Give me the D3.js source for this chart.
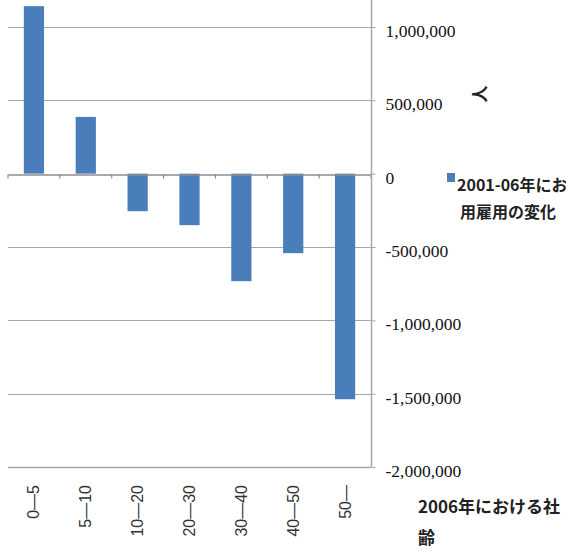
<!DOCTYPE html>
<html><head><meta charset="utf-8">
<script src="https://cdn.jsdelivr.net/npm/d3@7/dist/d3.min.js"></script>
<style>
html,body{margin:0;padding:0;background:#fff;overflow:hidden}
</style></head>
<body>
<svg id="c" width="566" height="551"></svg>
<script>
const categories = ["0—5", "5—10", "10—20", "20—30", "30—40", "40—50", "50—"];
const values = [1142000, 387000, -256000, -351000, -733000, -542000, -1538000];
const yTicks = [1000000, 500000, 0, -500000, -1000000, -1500000, -2000000];
const seriesName = ["2001-06年における常", "用雇用の変化"];
const xTitle = ["2006年における社", "齢"];
const yTitle = "人";

(function () {
const svg = d3.select("#c");
const pLeft = 8, pRight = 371, pTop = 27, pBottom = 467;

const x = d3.scaleBand().domain(categories).range([pLeft, pRight]).paddingInner(0.61).paddingOuter(0.305);
const xb = d3.scaleBand().domain(categories).range([pLeft, pRight]);
const y = d3.scaleLinear().domain([-2000000, 1000000]).range([pBottom, pTop]);

const grid = "#a6a6a6";
svg.append("g").selectAll("line").data(yTicks.filter(d => d !== -2000000 && d !== 0)).join("line")
  .attr("x1", pLeft).attr("x2", pRight)
  .attr("y1", d => Math.round(y(d)) + 0.5).attr("y2", d => Math.round(y(d)) + 0.5)
  .attr("stroke", grid).attr("stroke-width", 1.2);

svg.append("g").selectAll("rect").data(values).join("rect")
  .attr("x", (d, i) => x(categories[i]))
  .attr("width", x.bandwidth())
  .attr("y", d => y(Math.max(0, d)))
  .attr("height", d => Math.abs(y(d) - y(0)))
  .attr("fill", "#4a7ebb");

svg.append("line").attr("x1", pLeft).attr("x2", pRight)
  .attr("y1", Math.round(y(-2000000)) + 0.5).attr("y2", Math.round(y(-2000000)) + 0.5)
  .attr("stroke", grid).attr("stroke-width", 1.5);

const xAxis = d3.axisBottom(xb).tickSize(0).tickFormat("");
const gx = svg.append("g").attr("transform", `translate(0,${Math.round(y(0)) + 0.5})`).call(xAxis);
gx.select(".domain").attr("stroke", "#8c8c8c").attr("stroke-width", 1.5);
gx.append("g").selectAll("line").data(d3.range(categories.length + 1)).join("line")
  .attr("x1", i => pLeft + i * xb.step()).attr("x2", i => pLeft + i * xb.step())
  .attr("y1", 0).attr("y2", 4).attr("stroke", "#8c8c8c").attr("stroke-width", 1.2);

svg.append("g").selectAll("text").data(categories).join("text")
  .attr("transform", d => `translate(${xb(d) + xb.bandwidth() / 2},485) rotate(-90)`)
  .attr("text-anchor", "end").attr("dominant-baseline", "central")
  .attr("font-family", "Liberation Sans, Arial, sans-serif").attr("font-size", 16)
  .attr("fill", "#333").text(d => d);

const yAxis = d3.axisRight(y).tickValues(yTicks).tickSize(4).tickFormat(d3.format(","));
const gy = svg.append("g").attr("transform", `translate(${pRight + 0.5},0)`).call(yAxis);
gy.select(".domain").attr("stroke", grid).attr("stroke-width", 1.5).attr("d", `M0,${y(1000000) - 30}V${y(-2000000)}`);
gy.selectAll(".tick line").attr("stroke", grid);
gy.selectAll(".tick text")
  .attr("x", 14).attr("dy", "0.55em")
  .attr("font-family", "Liberation Serif, Times New Roman, serif").attr("font-size", 17.5)
  .attr("fill", "#111").text(d => d3.format(",")(d).replace("−", "-"));

svg.append("text").attr("transform", "translate(478,94) rotate(-90)")
  .attr("text-anchor", "middle").attr("dominant-baseline", "central")
  .attr("font-family", "Noto Sans CJK JP, sans-serif").attr("font-size", 17).attr("font-weight", 700)
  .attr("fill", "#222").text(yTitle);

svg.append("rect").attr("x", 447).attr("y", 173).attr("width", 8).attr("height", 9).attr("fill", "#4a7ebb");
svg.append("g").selectAll("text").data(seriesName).join("text")
  .attr("x", (d, i) => i === 0 ? 457 : 460).attr("y", (d, i) => 184 + i * 27)
  .attr("dominant-baseline", "central")
  .attr("font-family", "Noto Sans CJK JP, sans-serif").attr("font-size", 16).attr("font-weight", 600)
  .attr("fill", "#222").text(d => d);

svg.append("g").selectAll("text").data(xTitle).join("text")
  .attr("x", 418).attr("y", (d, i) => 505 + i * 31)
  .attr("dominant-baseline", "central")
  .attr("font-family", "Noto Sans CJK JP, sans-serif").attr("font-size", 17).attr("font-weight", 700)
  .attr("fill", "#222").text(d => d);
})();
</script>
</body></html>
